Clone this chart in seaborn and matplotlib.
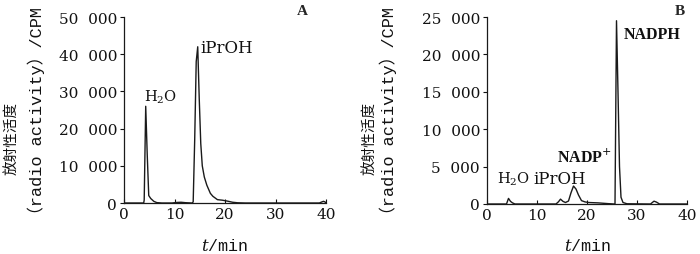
import numpy as np
import pandas as pd
import matplotlib
matplotlib.use("Agg")
import matplotlib.pyplot as plt
import seaborn as sns
from matplotlib.ticker import FuncFormatter, MultipleLocator

# ---- data ----
t_a = [0, 3.9, 4.0, 4.3, 4.6, 4.9, 5.3, 5.9, 6.5, 7.5, 9.5, 10.5, 11.3, 12.2, 13.5, 13.7,
       14.0, 14.3, 14.6, 14.9, 15.2, 15.5, 15.9, 16.4, 17.1, 17.6, 18.5, 19.5, 20.5, 21.5,
       22.5, 24.0, 38.7, 39.1, 39.5, 39.8, 40.0]
cpm_a = [0, 0, 800, 26000, 13000, 2000, 1200, 450, 100, 0, 0, 150, 200, 80, 0, 300,
         17000, 38000, 42000, 28000, 16000, 10000, 7000, 4800, 2600, 1800, 900, 750, 500, 200,
         60, 0, 0, 250, 450, 300, 0]

t_b = [0, 3.9, 4.3, 4.7, 5.1, 5.6, 6.5, 13.8, 14.3, 14.7, 15.2, 15.7, 16.3, 16.8, 17.3,
       17.8, 18.3, 18.9, 19.6, 20.3, 22.2, 24.2, 25.4, 25.6, 25.9, 26.2, 26.5, 26.8, 27.2,
       28.0, 32.7, 33.4, 33.9, 34.5, 40.0]
cpm_b = [0, 0, 750, 350, 150, 0, 0, 0, 300, 650, 350, 200, 400, 1500, 2400,
         2000, 1200, 450, 280, 200, 150, 50, 0, 0, 24500, 15000, 5000, 900, 200,
         30, 0, 380, 250, 0, 0]

labels_a = ["H$_2$O", "iPrOH"]
label_pos_a = [(4.0, 27400), (15.1, 40600)]
labels_b = ["H$_2$O", "iPrOH", "NADP$^{+}$", "NADPH"]
label_pos_b = [(2.0, 2800), (9.2, 2800), (14.0, 5750), (27.4, 22200)]
label_font_b = ["h2o", "serif", "times", "times"]
label_font_a = ["h2o", "serif"]

ylim_a, ystep_a = 50000, 10000
ylim_b, ystep_b = 25000, 5000
xticks = [0, 10, 20, 30, 40]

sns.set_theme(style="ticks")
plt.rcParams["font.family"] = ["DejaVu Serif", "Noto Sans CJK SC"]
plt.rcParams["mathtext.fontset"] = "custom"
plt.rcParams["mathtext.rm"] = "DejaVu Serif"
plt.rcParams["mathtext.it"] = "DejaVu Serif:italic"
plt.rcParams["mathtext.bf"] = "DejaVu Serif:bold"

fig = plt.figure(figsize=(7, 2.55), dpi=100)
ax_a = fig.add_axes([124/700, 1-204/255, 202/700, 186/255])
ax_b = fig.add_axes([487/700, 1-205/255, 200/700, 187/255])

def fmt(v, pos):
    v = int(round(v))
    if v == 0:
        return "0"
    return f"{v:,}".replace(",", "\u2007")

def style(ax, ymax, ystep):
    ax.set_xlim(0, 40)
    ax.set_ylim(0, ymax)
    ax.set_xticks(xticks)
    ax.yaxis.set_major_locator(MultipleLocator(ystep))
    ax.yaxis.set_major_formatter(FuncFormatter(fmt))
    sns.despine(ax=ax)
    for s in ("left", "bottom"):
        ax.spines[s].set_linewidth(0.9)
        ax.spines[s].set_color("#1a1a1a")
    ax.tick_params(axis="y", direction="out", length=3, width=0.8, pad=2,
                   labelsize=11, colors="#111111")
    ax.tick_params(axis="x", direction="in", length=3, width=0.8, pad=3,
                   labelsize=11, colors="#111111")
    ax.set_xlabel("")
    ax.set_ylabel("")

for ax, t, c, labs, pos, fonts, ymax, ystep in [
        (ax_a, t_a, cpm_a, labels_a, label_pos_a, label_font_a, ylim_a, ystep_a),
        (ax_b, t_b, cpm_b, labels_b, label_pos_b, label_font_b, ylim_b, ystep_b)]:
    df = pd.DataFrame({"t": t, "cpm": c})
    sns.lineplot(data=df, x="t", y="cpm", ax=ax, color="#1a1a1a", linewidth=1.0,
                 estimator=None, sort=False)
    style(ax, ymax, ystep)
    for s, (x, y), f in zip(labs, pos, fonts):
        if f == "times":
            ax.text(x, y, s, fontsize=11.5, color="#111111", ha="left", va="baseline",
                    family="Liberation Serif", fontweight="bold")
        elif f == "h2o":
            ax.text(x, y, s, fontsize=10.5, color="#111111", ha="left", va="baseline",
                    family="DejaVu Serif")
        else:
            ax.text(x, y, s, fontsize=12, color="#111111", ha="left", va="baseline",
                    family="DejaVu Serif")

# panel letters
fig.text(302/700, 1-15/255, "A", fontsize=11, family="Liberation Serif",
         fontweight="bold", ha="center", va="baseline")
fig.text(680/700, 1-15/255, "B", fontsize=11, family="Liberation Serif",
         fontweight="bold", ha="center", va="baseline")

# y labels
for x1, x2 in [(11, 36), (369, 388)]:
    fig.text(x1/700, 1-138/255, "放射性活度", rotation=90, fontsize=10.5,
             family=["Noto Sans CJK SC"], ha="center", va="center", color="#111111")
    fig.text(x2/700, 1-115/255, "（radio activity）/CPM", rotation=90, fontsize=12.2,
             family=["Liberation Mono", "Noto Sans CJK SC"], ha="center", va="center",
             color="#111111")

# x labels
for xc in [225, 588]:
    fig.text(xc/700, 1-246/255, "$t$/min", fontsize=12,
             family=["Liberation Mono"], ha="center", va="center", color="#111111")

fig.savefig("out.png", dpi=100)
